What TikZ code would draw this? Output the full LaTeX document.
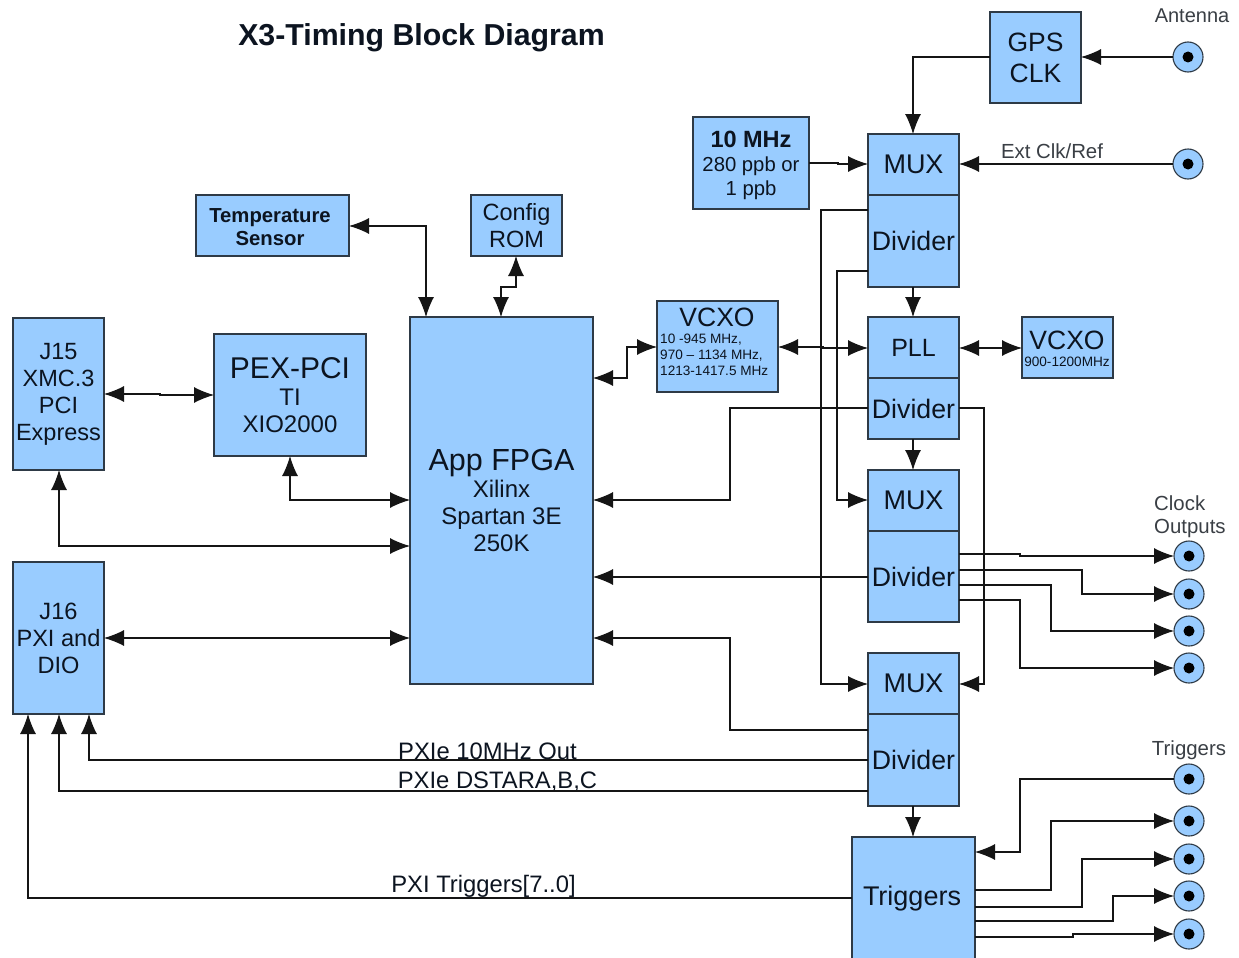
\documentclass[tikz,border=0pt]{standalone}
\usepackage{fontspec}
\setmainfont{Liberation Sans}
\usetikzlibrary{arrows.meta}
\definecolor{blk}{HTML}{99CCFF}
\definecolor{ln}{HTML}{151515}
\definecolor{bd}{HTML}{2E3A46}
\definecolor{tx}{HTML}{0C1420}
\definecolor{tg}{HTML}{3A3F45}
\newcommand\fs[1]{\fontsize{#1}{#1}\selectfont}
\newcommand\fz[2]{\fontsize{#1}{#2}\selectfont}
\tikzset{
 x=1pt,y=-1pt,
 blkbox/.style={draw=bd,fill=blk,line width=1.1pt,inner sep=0pt,outer sep=0pt,align=center,text=tx},
 conn/.style={circle,draw=bd,fill=blk,line width=1.1pt,minimum size=30pt,inner sep=0pt,outer sep=0pt},
 lbl/.style={inner sep=0pt,text=tx,align=center},
 glbl/.style={inner sep=0pt,text=tg,align=center},
 wire/.style={draw=ln,line width=1.1pt},
 arr/.style={wire,-{Latex[length=20pt,width=16pt]}},
 darr/.style={wire,{Latex[length=20pt,width=16pt]}-{Latex[length=20pt,width=16pt]}},
}
\newcommand\bx[7][]{\node[blkbox,font=#1,minimum width={(#5-#3)*1pt},minimum height={(#6-#4)*1pt}] (#2) at ({(#3+#5)/2},{(#4+#6)/2}) {#7};}
\newcommand\cn[3]{\node[conn] (#1) at (#2,#3) {}; \fill[black] (#1.center) circle (5.5);}
\begin{document}
\begin{tikzpicture}
\clip (0,0) rectangle (1239,958);
\fill[white] (0,0) rectangle (1239,958);
\node[lbl,font=\bfseries\fs{30.3}] (title) at (421.5,38) {X3-Timing Block Diagram};

\bx[\fz{26.5}{31}]{gps}{990}{12}{1081}{103}{GPS\\CLK}
\bx{ten}{693}{117}{809}{209}{}
\node[lbl,font=\fz{20.3}{24}] (tent) at (751,165) {\fz{23.5}{24}\bfseries 10 MHz\\280 ppb or\\1 ppb};
\bx[\fs{27}]{muxa}{868}{134}{959}{195}{MUX}
\bx[\fs{26.7}]{diva}{868}{195}{959}{287}{Divider}
\bx[\fs{25}]{pll}{868}{317}{959}{378}{PLL}
\bx[\fs{26.7}]{divb}{868}{378}{959}{439}{Divider}
\bx{vcb}{1022}{317}{1113}{378}{}
\node[lbl,font=\fs{26.5}] (vcbt) at (1067,340) {VCXO};
\node[lbl,font=\fs{13.6}] (vcbs) at (1067,362) {900-1200MHz};
\node[blkbox,minimum width=121pt,minimum height=91pt] (vca) at (717.5,346.5) {};
\node[lbl,font=\fs{26.5}] (vcat) at (717,317) {VCXO};
\node[lbl,font=\fz{13.6}{16},align=left,anchor=north west] (vcas) at (660,334) {10 -945 MHz,\\970 -- 1134 MHz,\\1213-1417.5 MHz};
\bx[\fs{27}]{muxb}{868}{470}{959}{531}{MUX}
\bx[\fs{26.7}]{divc}{868}{531}{959}{622}{Divider}
\bx[\fs{27}]{muxc}{868}{653}{959}{714}{MUX}
\bx[\fs{26.7}]{divd}{868}{714}{959}{806}{Divider}
\node[blkbox,minimum width=123pt,minimum height=138pt] (trg) at (913.5,906) {};
\node[lbl,font=\fs{27}] (trgt) at (912,899) {Triggers};
\bx[\fz{24}{27}]{fpga}{410}{317}{593}{684}{\fz{30.5}{30}App FPGA\\Xilinx\\Spartan 3E\\250K}
\bx[\fz{24}{27}]{pex}{214}{334}{366}{456}{\fz{30}{32}PEX-PCI\\TI\\XIO2000}
\bx{jf}{13}{318}{104}{470}{}
\node[lbl,font=\fz{23.5}{27}] (jft) at (58.5,394.5) {J15\\XMC.3\\PCI\\Express};
\bx[\fz{23.6}{27}]{js}{13}{562}{104}{714}{J16\\PXI and\\DIO}
\bx{temp}{196}{195}{349}{256}{}
\node[lbl,font=\bfseries\fz{20.3}{23}] (tempt) at (270,227.5) {Temperature\\Sensor};
\bx[\fz{23.5}{27}]{rom}{471}{195}{562}{256}{Config\\ROM}

\cn{ant}{1188}{57}
\cn{ext}{1188}{164}
\cn{coa}{1189}{556}
\cn{cob}{1189}{594}
\cn{coc}{1189}{631}
\cn{cod}{1189}{668}
\cn{tra}{1189}{779}
\cn{trb}{1189}{821}
\cn{trc}{1189}{859}
\cn{trd}{1189}{896}
\cn{tre}{1189}{934}

\node[glbl,font=\fs{20}] (lant) at (1192,16) {Antenna};
\node[glbl,font=\fs{20.4}] (lext) at (1052,151) {Ext Clk/Ref};
\node[glbl,font=\fz{20.4}{23},align=left,anchor=west] (lclk) at (1154,517) {Clock\\Outputs};
\node[glbl,font=\fs{20.4}] (ltrg) at (1189,750) {Triggers};
\node[lbl,font=\fs{23.8}] (lpa) at (487.5,751) {PXIe 10MHz Out};
\node[lbl,font=\fs{23.8}] (lpb) at (497.5,782) {PXIe DSTARA,B,C};
\node[lbl,font=\fs{23.8}] (lpc) at (483.5,886) {PXI Triggers[7..0]};

\draw[arr] (ant) -- (gps.east |- ant);
\draw[arr] (gps.west |- 0,57) -- (913,57) -- (muxa.north -| 913,0);
\draw[arr] (ten.east |- 0,163) -- (838,163) -- (838,164) -- (muxa.west |- 0,164);
\draw[arr] (ext) -- (muxa.east |- ext);
\draw[arr] (diva.west |- 0,210) -- (821,210) -- (821,684) -- (muxc.west |- 0,684);
\draw[arr] (diva.west |- 0,271) -- (837,271) -- (837,500) -- (muxb.west |- 0,500);
\draw[arr] (diva.south -| 913,0) -- (pll.north -| 913,0);
\draw[darr] (vca.east |- 0,347) -- (823,347) -- (823,348) -- (pll.west |- 0,348);
\draw[darr] (vca.west |- 0,347) -- (627,347) -- (627,378) -- (fpga.east |- 0,378);
\draw[darr] (pll.east |- 0,348) -- (vcb.west |- 0,348);
\draw[arr] (divb.west |- 0,408) -- (730,408) -- (730,500) -- (fpga.east |- 0,500);
\draw[arr] (divb.east |- 0,408) -- (984,408) -- (984,684) -- (muxc.east |- 0,684);
\draw[arr] (divb.south -| 913,0) -- (muxb.north -| 913,0);
\draw[arr] (divc.west |- 0,577) -- (fpga.east |- 0,577);
\draw[arr] (divc.east |- 0,554) -- (1020,554) -- (1020,556) -- (coa);
\draw[arr] (divc.east |- 0,570) -- (1082,570) -- (1082,594) -- (cob);
\draw[arr] (divc.east |- 0,585) -- (1051,585) -- (1051,631) -- (coc);
\draw[arr] (divc.east |- 0,600) -- (1020,600) -- (1020,668) -- (cod);
\draw[arr] (divd.west |- 0,730) -- (730,730) -- (730,638) -- (fpga.east |- 0,638);
\draw[arr] (divd.west |- 0,760) -- (89,760) -- (js.south -| 89,0);
\draw[arr] (divd.west |- 0,791) -- (59,791) -- (js.south -| 59,0);
\draw[arr] (divd.south -| 913,0) -- (trg.north -| 913,0);
\draw[arr] (trg.west |- 0,898) -- (28,898) -- (js.south -| 28,0);
\draw[arr] (tra) -- (1020,779) -- (1020,852) -- (trg.east |- 0,852);
\draw[arr] (trg.east |- 0,890) -- (1051,890) -- (1051,821) -- (trb);
\draw[arr] (trg.east |- 0,907) -- (1082,907) -- (1082,859) -- (trc);
\draw[arr] (trg.east |- 0,921) -- (1113,921) -- (1113,896) -- (trd);
\draw[arr] (trg.east |- 0,937) -- (1073,937) -- (1073,934) -- (tre);
\draw[darr] (temp.east |- 0,226) -- (426,226) -- (fpga.north -| 426,0);
\draw[darr] (rom.south -| 516,0) -- (516,287) -- (501,287) -- (fpga.north -| 501,0);
\draw[darr] (jf.east |- 0,394) -- (160,394) -- (160,395) -- (pex.west |- 0,395);
\draw[darr] (pex.south -| 290,0) -- (290,500) -- (fpga.west |- 0,500);
\draw[darr] (jf.south -| 59,0) -- (59,546) -- (fpga.west |- 0,546);
\draw[darr] (js.east |- 0,638) -- (fpga.west |- 0,638);
\end{tikzpicture}
\end{document}
